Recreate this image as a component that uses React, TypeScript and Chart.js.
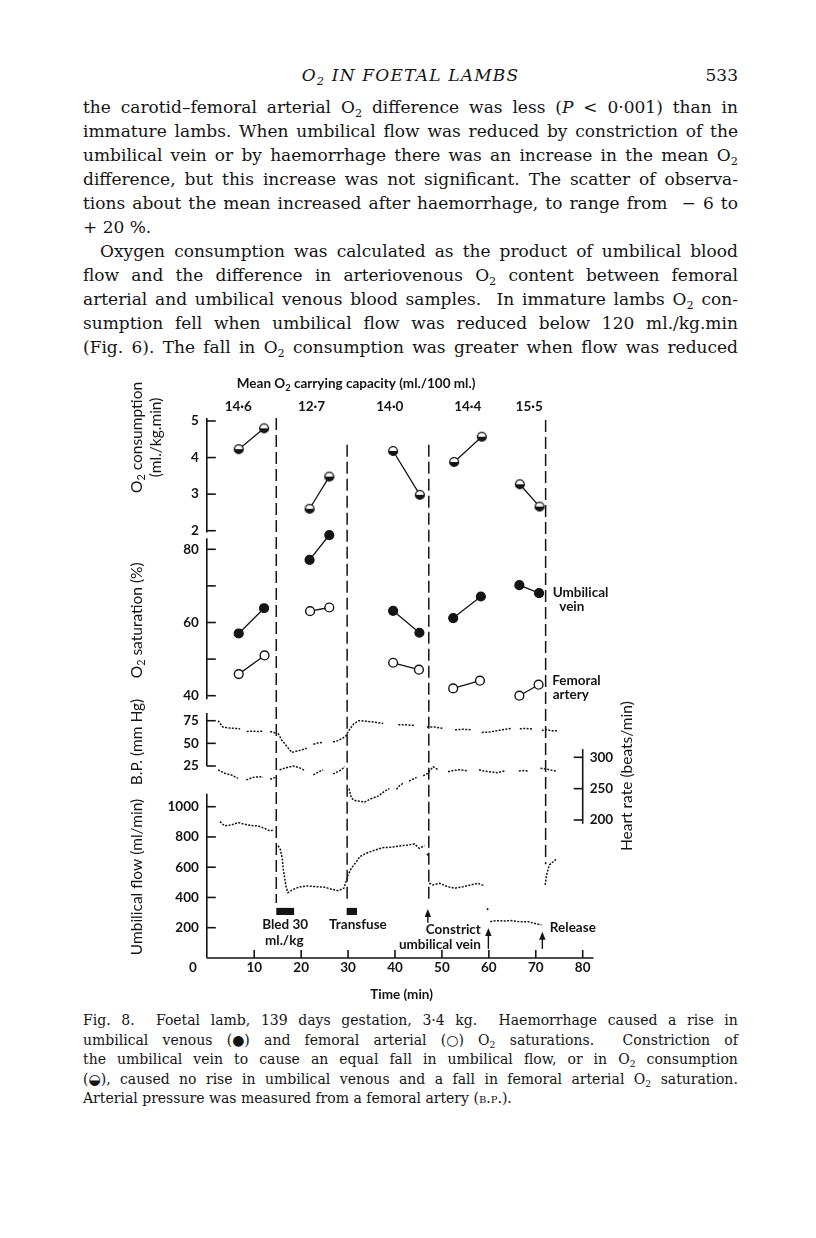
import React, { useEffect, useRef } from 'react';
import { Chart, registerables } from 'chart.js';
Chart.register(...registerables);

const INK = '#141414';

// ---------------- data ----------------
const capacityLabels = ['14·6', '12·7', '14·0', '14·4', '15·5'];
const capacityTimes = [6.6, 22.2, 38.9, 55.5, 68.6];

// O2 consumption (ml./kg.min), pairs before/after each intervention
const o2ConsTimes = [6.7, 12.1, 21.8, 26.0, 39.6, 45.3, 52.6, 58.5, 66.6, 70.8];
const o2ConsValues = [4.23, 4.8, 2.6, 3.48, 4.18, 2.98, 3.88, 4.57, 3.27, 2.66];

// O2 saturation (%)
const uvSatTimes = [6.7, 12.1, 21.8, 26.0, 39.6, 45.2, 52.4, 58.3, 66.5, 70.7];
const uvSatValues = [57.0, 63.9, 77.1, 83.9, 63.2, 57.2, 61.2, 67.1, 70.2, 68.0];
const faSatTimes = [6.7, 12.2, 21.9, 26.0, 39.6, 45.1, 52.4, 58.1, 66.5, 70.6];
const faSatValues = [45.9, 51.0, 63.1, 64.1, 49.0, 47.1, 42.0, 44.1, 40.0, 43.0];

// B.P. trace (mm Hg) [time, value]; null = gap in the record
const bpTrace: [number, number | null][] = [
  [2.3, 75], [3.3, 68], [4.6, 67], [5.8, 66.5], [7.0, 66], [7.7, null],
  [8.4, 63], [9.6, 63.5], [10.8, 63], [11.9, 63.5], [12.6, null],
  [13.4, 63], [14.5, 61.5], [14.8, null],
  [15.1, 61], [15.8, 54], [16.9, 47], [18.0, 40], [19.2, 41.5], [20.2, 43], [21.2, 44.5], [21.9, null],
  [22.6, 49], [23.6, 50.5], [24.7, 51], [25.7, null],
  [26.8, 51.5], [27.8, 53], [28.8, 55.5], [29.5, 58], [30.0, 63], [30.7, 68], [31.3, 72], [32.3, 75], [33.8, 74.5], [35.5, 73.5], [37.5, 72], [39.1, null],
  [40.7, 70.5], [42.3, 70.5], [44.3, 69.5], [45.5, null],
  [46.8, 68], [48.5, 68], [50.3, 66.5], [51.5, null],
  [52.8, 65], [54.5, 65.5], [56.3, 65], [57.4, null],
  [58.5, 62], [60.2, 62.5], [61.8, 64], [63.4, 65.5], [64.9, 66.5], [65.7, null],
  [66.6, 66], [68.0, 66.5], [69.5, 65.5], [70.4, null],
  [71.3, 64], [72.0, 65.5], [73.2, 64], [74.8, 64],
];

// Heart rate trace (beats/min)
const hrTrace: [number, number | null][] = [
  [2.3, 280], [3.7, 274.5], [5.1, 272], [6.5, 266.5], [7.3, null],
  [8.3, 264], [9.8, 268], [11.2, 269], [11.9, 268], [12.7, null],
  [13.4, 265], [14.5, 268], [14.9, null],
  [15.4, 280], [16.9, 283.5], [18.3, 286], [19.6, 283.5], [20.8, 279], [21.7, null],
  [22.6, 272], [23.8, 277], [24.7, 280], [25.7, null],
  [26.8, 273.5], [28.2, 278.5], [29.3, 285], [29.8, null],
  [30.2, 250], [30.7, 235], [31.4, 231], [32.5, 230], [33.5, 228.5], [34.9, 234], [36.4, 238], [37.8, 246], [38.8, 250], [39.6, null],
  [40.3, 249], [41.0, 255], [41.7, 258.5], [42.4, null],
  [43.0, 262], [43.8, 265], [44.6, 268], [45.4, null],
  [46.0, 270.5], [47.0, 274.5], [48.1, 285], [49.2, 280], [50.0, null],
  [51.3, 277], [52.5, 279], [53.8, 280], [55.5, 278.5], [56.5, null],
  [57.9, 280], [59.0, 278], [60.1, 277], [61.8, 275.5], [63.6, 278.5], [64.6, null],
  [66.4, 278], [67.5, 279], [68.5, 278], [69.8, null],
  [71.0, 282.5], [72.4, 281], [74.3, 278],
];

// Umbilical flow trace (ml/min)
const flowTrace: [number, number | null][] = [
  [2.7, 901], [3.7, 873], [5.1, 879], [6.6, 895], [8.0, 884], [9.4, 875], [10.8, 873], [12.2, 857], [13.3, 840], [14.1, 846], [14.6, null],
  [15.1, 742], [15.6, 714], [16.0, 650], [16.2, 582], [16.8, 470], [17.2, 432], [18.1, 450], [19.4, 467], [21.2, 476], [23.3, 471], [25.1, 467], [26.5, 454], [27.9, 445], [29.1, 461],
  [30.0, 549], [30.7, 593], [31.8, 637], [32.5, 670], [33.9, 692], [35.3, 709], [37.4, 729], [39.2, 732], [41.0, 740], [42.7, 747], [44.1, 754], [45.2, 725], [46.3, 742], [46.6, null],
  [46.9, 690], [47.0, 668], [47.1, null],
  [47.3, 494], [48.1, 483], [49.5, 494], [51.2, 471], [52.7, 461], [54.5, 471], [56.2, 483], [57.6, 494], [59.0, 478], [59.4, null],
  [59.7, 330], [59.8, 312], [60.0, null],
  [60.3, 240], [61.6, 247], [63.0, 244], [64.8, 247], [66.5, 240], [68.3, 240], [69.7, 229], [71.2, 218], [71.6, null],
  [72.0, 483], [72.3, 549], [72.9, 615], [74.3, 652],
];

// experimental events
const eventTimes = [14.7, 29.8, 47.2, 72.1];
const eventTopO2 = [5.08, 4.35, 4.35, 5.03];
const eventBottomFlow = [364, 383, 364, 620];
const bleedBar = [14.7, 18.5];
const transfuseBar = [29.7, 31.9];
const arrowTimes = [47.0, 59.9, 71.4];
const arrowTipFlow = [324, 198, 174];
const arrowBaseFlow = [233, 60, 60];

// ticks
const o2Ticks = [2, 3, 4, 5];
const satTicks = [40, 50, 60, 70, 80];
const satTickLabels = [40, 60, 80];
const bpTicks = [25, 50, 75];
const flowTicks = [200, 400, 600, 800, 1000];
const hrTicks = [200, 250, 300];
const timeTicks = [10, 20, 30, 40, 50, 60, 70, 80];

// ---------------- page text ----------------
const paragraphLines = [
  'the carotid–femoral arterial O_2 difference was less (*P* < 0·001) than in',
  'immature lambs. When umbilical flow was reduced by constriction of the',
  'umbilical vein or by haemorrhage there was an increase in the mean O_2',
  'difference, but this increase was not significant. The scatter of observa-',
  'tions about the mean increased after haemorrhage, to range from  − 6 to',
  '+ 20 %.',
  'Oxygen consumption was calculated as the product of umbilical blood',
  'flow and the difference in arteriovenous O_2 content between femoral',
  'arterial and umbilical venous blood samples.  In immature lambs O_2 con-',
  'sumption fell when umbilical flow was reduced below 120 ml./kg.min',
  '(Fig. 6). The fall in O_2 consumption was greater when flow was reduced',
];
const captionLines = [
  'Fig. 8.  Foetal lamb, 139 days gestation, 3·4 kg.  Haemorrhage caused a rise in',
  'umbilical venous (●) and femoral arterial (○) O_2 saturations.  Constriction of',
  'the umbilical vein to cause an equal fall in umbilical flow, or in O_2 consumption',
  '(◒), caused no rise in umbilical venous and a fall in femoral arterial O_2 saturation.',
  'Arterial pressure was measured from a femoral artery (^b.p.^).',
];

// ---------------- layout (page pixels) ----------------
const OFF = 8;
const CV = { x: 100, y: 360, w: 560, h: 650 };
const AREA = { left: 207.3, right: 582.7, top: 400, bottom: 960 };
const TEXT_LEFT = 83;
const TEXT_W = 655;

function rangeFor(v1: number, p1: number, v2: number, p2: number) {
  const k = (v2 - v1) / (p2 - p1);
  return { min: v1 + (AREA.bottom - p1) * k, max: v1 + (AREA.top - p1) * k };
}

// ---------------- canvas helpers ----------------
type Seg = { t: string; sub?: boolean };
function parseRich(s: string): Seg[] {
  return s.split(/(_\d)/).filter(Boolean).map((p) => (p.startsWith('_') ? { t: p.slice(1), sub: true } : { t: p }));
}
function drawText(
  ctx: CanvasRenderingContext2D,
  s: string,
  x: number,
  y: number,
  o: { size: number; weight?: string; align?: 'left' | 'center' | 'right'; rot?: number }
) {
  const font = (sz: number) => `${o.weight ?? 'normal'} ${sz}px Lato`;
  const segs = parseRich(s);
  let w = 0;
  const widths = segs.map((sg) => {
    ctx.font = font(sg.sub ? o.size * 0.7 : o.size);
    const m = ctx.measureText(sg.t).width;
    w += m;
    return m;
  });
  ctx.save();
  ctx.translate(x, y);
  if (o.rot) ctx.rotate(o.rot);
  let cx = o.align === 'center' ? -w / 2 : o.align === 'right' ? -w : 0;
  ctx.textBaseline = 'middle';
  ctx.textAlign = 'left';
  ctx.fillStyle = INK;
  segs.forEach((sg, i) => {
    ctx.font = font(sg.sub ? o.size * 0.7 : o.size);
    ctx.fillText(sg.t, cx, sg.sub ? o.size * 0.32 : 0);
    cx += widths[i];
  });
  ctx.restore();
}

function halfMarker(): HTMLCanvasElement {
  const c = document.createElement('canvas');
  c.width = 12;
  c.height = 12;
  const g = c.getContext('2d')!;
  const r = 4.4;
  g.beginPath();
  g.arc(6, 6, r, 0, Math.PI * 2);
  g.fillStyle = '#fff';
  g.fill();
  g.beginPath();
  g.arc(6, 6, r, 0, Math.PI);
  g.closePath();
  g.fillStyle = INK;
  g.fill();
  g.beginPath();
  g.arc(6, 6, r, 0, Math.PI * 2);
  g.lineWidth = 1.4;
  g.strokeStyle = INK;
  g.stroke();
  return c;
}

const figurePlugin = {
  id: 'figure',
  beforeDatasetsDraw(chart: any) {
    const ctx: CanvasRenderingContext2D = chart.ctx;
    const { x: xs, yO2, ySat, yBP, yHR, yFlow } = chart.scales;
    const X = (t: number) => xs.getPixelForValue(t);
    const ax = X(0) - 0.5;
    ctx.save();
    ctx.strokeStyle = INK;
    ctx.fillStyle = INK;
    ctx.lineWidth = 1.6;
    const seg = (x1: number, y1: number, x2: number, y2: number) => {
      ctx.beginPath();
      ctx.moveTo(x1, y1);
      ctx.lineTo(x2, y2);
      ctx.stroke();
    };

    // left axes
    const left = [
      { s: yO2, top: 5.08, bottom: 1.95, ticks: o2Ticks, labels: o2Ticks },
      { s: ySat, top: 83, bottom: 39, ticks: satTicks, labels: satTickLabels },
      { s: yBP, top: 83.5, bottom: 25, ticks: bpTicks, labels: bpTicks },
      { s: yFlow, top: 1085, bottom: 0, ticks: flowTicks, labels: flowTicks },
    ];
    left.forEach((a) => {
      seg(ax, a.s.getPixelForValue(a.top), ax, a.s.getPixelForValue(a.bottom));
      a.ticks.forEach((t: number) => seg(ax, a.s.getPixelForValue(t), ax + 9, a.s.getPixelForValue(t)));
      a.labels.forEach((t: number) =>
        drawText(ctx, String(t), ax - 8, a.s.getPixelForValue(t), { size: 13.5, weight: 'bold', align: 'right' })
      );
    });

    // time axis
    const axisY = yFlow.getPixelForValue(0);
    seg(ax, axisY, X(82.3), axisY);
    timeTicks.forEach((t) => {
      seg(X(t), axisY, X(t), axisY - 8);
      drawText(ctx, String(t), X(t), axisY + 10, { size: 13.5, weight: 'bold', align: 'center' });
    });
    drawText(ctx, '0', ax - 14, axisY + 10, { size: 13.5, weight: 'bold', align: 'center' });
    drawText(ctx, 'Time (min)', X(41.4), axisY + 37, { size: 13.5, weight: 'bold', align: 'center' });

    // heart-rate axis (right)
    const hx = X(80);
    seg(hx, yHR.getPixelForValue(313), hx, yHR.getPixelForValue(194));
    hrTicks.forEach((t) => {
      seg(hx - 9, yHR.getPixelForValue(t), hx, yHR.getPixelForValue(t));
      drawText(ctx, String(t), hx + 7, yHR.getPixelForValue(t), { size: 13.5, weight: 'bold', align: 'left' });
    });
    drawText(ctx, 'Heart rate (beats/min)', hx + 44, yHR.getPixelForValue(270), {
      size: 15.5,
      align: 'center',
      rot: -Math.PI / 2,
    });

    // left titles
    const rot = -Math.PI / 2;
    const tf = { size: 15.5, align: 'center' as const, rot };
    drawText(ctx, 'O_2 consumption', ax - 70, yO2.getPixelForValue(4.55), tf);
    drawText(ctx, '(ml./kg.min)', ax - 51, yO2.getPixelForValue(4.55), tf);
    drawText(ctx, 'O_2 saturation (%)', ax - 70, ySat.getPixelForValue(60.6), tf);
    drawText(ctx, 'B.P. (mm Hg)', ax - 70, yBP.getPixelForValue(51.5), tf);
    drawText(ctx, 'Umbilical flow (ml/min)', ax - 70, yFlow.getPixelForValue(535), tf);

    // top title and capacities
    const top = chart.chartArea.top;
    drawText(ctx, 'Mean O_2 carrying capacity (ml./100 ml.)', X(31.7), top - 16, { size: 13.5, weight: 'bold', align: 'center' });
    capacityTimes.forEach((t, i) =>
      drawText(ctx, capacityLabels[i], X(t), top + 7, { size: 13.5, weight: 'bold', align: 'center' })
    );

    // event lines
    ctx.lineWidth = 1.5;
    ctx.setLineDash([12, 5]);
    eventTimes.forEach((t, i) => seg(X(t), yO2.getPixelForValue(eventTopO2[i]), X(t), yFlow.getPixelForValue(eventBottomFlow[i])));
    ctx.setLineDash([]);

    // bars
    const barTop = yFlow.getPixelForValue(331);
    const barBot = yFlow.getPixelForValue(284);
    [bleedBar, transfuseBar].forEach((b) => ctx.fillRect(X(b[0]), barTop, X(b[1]) - X(b[0]), barBot - barTop));

    // arrows
    ctx.lineWidth = 1.4;
    arrowTimes.forEach((t, i) => {
      const x = X(t);
      const tip = yFlow.getPixelForValue(arrowTipFlow[i]);
      const base = yFlow.getPixelForValue(arrowBaseFlow[i]);
      seg(x, base, x, tip + 5);
      ctx.beginPath();
      ctx.moveTo(x, tip);
      ctx.lineTo(x - 3.2, tip + 8);
      ctx.lineTo(x + 3.2, tip + 8);
      ctx.closePath();
      ctx.fill();
    });

    // annotations
    const ann = { size: 13.5, weight: 'bold' };
    drawText(ctx, 'Bled 30', X(16.6), yFlow.getPixelForValue(218), { ...ann, align: 'center' });
    drawText(ctx, 'ml./kg', X(16.4), yFlow.getPixelForValue(112), { ...ann, align: 'center' });
    drawText(ctx, 'Transfuse', X(32.1), yFlow.getPixelForValue(218), { ...ann, align: 'center' });
    drawText(ctx, 'Constrict', X(58.3), yFlow.getPixelForValue(185), { ...ann, align: 'right' });
    drawText(ctx, 'umbilical vein', X(58.3), yFlow.getPixelForValue(86), { ...ann, align: 'right' });
    drawText(ctx, 'Release', X(73.0), yFlow.getPixelForValue(198), { ...ann, align: 'left' });
    drawText(ctx, 'Umbilical', X(73.6), ySat.getPixelForValue(68.1), { ...ann, align: 'left' });
    drawText(ctx, 'vein', X(75.0), ySat.getPixelForValue(64.3), { ...ann, align: 'left' });
    drawText(ctx, 'Femoral', X(73.5), ySat.getPixelForValue(44.1), { ...ann, align: 'left' });
    drawText(ctx, 'artery', X(73.6), ySat.getPixelForValue(40.3), { ...ann, align: 'left' });

    ctx.restore();
  },
};

function pairs(times: number[], values: number[]) {
  const out: { x: number; y: number | null }[] = [];
  for (let i = 0; i < times.length; i += 2) {
    out.push({ x: times[i], y: values[i] }, { x: times[i + 1], y: values[i + 1] });
    if (i + 2 < times.length) out.push({ x: (times[i + 1] + times[i + 2]) / 2, y: null });
  }
  return out;
}
const trace = (d: [number, number | null][]) => d.map(([x, y]) => ({ x, y }));

function FigureChart() {
  const ref = useRef<HTMLCanvasElement | null>(null);
  useEffect(() => {
    if (!ref.current) return;
    const marker = halfMarker();
    const pointSet = {
      borderColor: INK,
      borderWidth: 1.3,
      pointRadius: 4.4,
      pointBorderColor: INK,
      pointBorderWidth: 1.4,
      spanGaps: false,
      tension: 0,
      xAxisID: 'x',
    };
    const traceSet = {
      borderColor: INK,
      borderWidth: 1.5,
      borderDash: [2, 1.4],
      pointRadius: 0,
      spanGaps: false,
      tension: 0,
      xAxisID: 'x',
    };
    const chart = new Chart(ref.current, {
      type: 'line',
      data: {
        datasets: [
          { ...pointSet, label: 'O2 consumption', data: pairs(o2ConsTimes, o2ConsValues), yAxisID: 'yO2', pointStyle: marker as any, pointRadius: 5 },
          { ...pointSet, label: 'Umbilical vein', data: pairs(uvSatTimes, uvSatValues), yAxisID: 'ySat', pointBackgroundColor: INK },
          { ...pointSet, label: 'Femoral artery', data: pairs(faSatTimes, faSatValues), yAxisID: 'ySat', pointBackgroundColor: '#fff' },
          { ...traceSet, label: 'B.P.', data: trace(bpTrace), yAxisID: 'yBP' },
          { ...traceSet, label: 'Heart rate', data: trace(hrTrace), yAxisID: 'yHR' },
          { ...traceSet, label: 'Umbilical flow', data: trace(flowTrace), yAxisID: 'yFlow' },
        ] as any,
      },
      options: {
        animation: false,
        responsive: false,
        maintainAspectRatio: false,
        events: [],
        layout: {
          padding: {
            left: AREA.left - CV.x,
            right: CV.x + CV.w - AREA.right,
            top: AREA.top - CV.y,
            bottom: CV.y + CV.h - AREA.bottom,
          },
        },
        plugins: { legend: { display: false }, tooltip: { enabled: false } },
        scales: {
          x: { type: 'linear', min: 0, max: 80, display: false },
          yO2: { type: 'linear', display: false, ...rangeFor(5, 421, 2, 530.7) },
          ySat: { type: 'linear', display: false, ...rangeFor(80, 549.3, 40, 695.7) },
          yBP: { type: 'linear', display: false, ...rangeFor(75, 720.7, 25, 766) },
          yHR: { type: 'linear', display: false, ...rangeFor(300, 757.3, 200, 820) },
          yFlow: { type: 'linear', display: false, ...rangeFor(1000, 806.7, 200, 927.7) },
        },
      } as any,
      plugins: [figurePlugin],
    });
    return () => chart.destroy();
  }, []);
  return (
    <canvas
      ref={ref}
      width={CV.w}
      height={CV.h}
      style={{ position: 'absolute', left: CV.x - OFF, top: CV.y - OFF, width: CV.w, height: CV.h }}
    />
  );
}

// ---------------- html text ----------------
function renderTok(tok: string, key: number) {
  const parts = tok.split(/(\*[^*]+\*|_\d|\^[^^]+\^)/).filter(Boolean);
  return (
    <span key={key}>
      {parts.map((p, i) => {
        if (p.startsWith('*')) return <i key={i}>{p.slice(1, -1)}</i>;
        if (p.startsWith('_'))
          return (
            <span key={i} style={{ fontSize: '0.66em', position: 'relative', top: '0.32em' }}>
              {p.slice(1)}
            </span>
          );
        if (p.startsWith('^'))
          return (
            <span key={i} style={{ fontVariant: 'small-caps' }}>
              {p.slice(1, -1)}
            </span>
          );
        return <React.Fragment key={i}>{p}</React.Fragment>;
      })}
    </span>
  );
}

function TextLine(props: { text: string; cy: number; lh: number; size: number; justify: boolean; indent?: number }) {
  const { text, cy, lh, size, justify } = props;
  const indent = props.indent ?? 0;
  const words = text.split(' ');
  const style: React.CSSProperties = {
    position: 'absolute',
    left: TEXT_LEFT - OFF + indent,
    top: cy - lh / 2 - OFF,
    width: TEXT_W - indent,
    height: lh,
    lineHeight: `${lh}px`,
    fontSize: size,
    fontFamily: '"DejaVu Serif", serif',
    color: INK,
    whiteSpace: 'pre',
  };
  if (justify) {
    return (
      <div style={{ ...style, display: 'flex', justifyContent: 'space-between' }}>
        {words.map((w, i) => renderTok(w, i))}
      </div>
    );
  }
  return (
    <div style={style}>
      {words.map((w, i) => (
        <React.Fragment key={i}>
          {i > 0 ? ' ' : ''}
          {renderTok(w, i)}
        </React.Fragment>
      ))}
    </div>
  );
}

export default function App() {
  return (
    <div style={{ position: 'relative', width: 800, height: 1222, background: '#fff', overflow: 'hidden' }}>
      <div
        style={{
          position: 'absolute',
          left: TEXT_LEFT - OFF,
          width: TEXT_W,
          top: 75 - 12 - OFF,
          height: 24,
          lineHeight: '24px',
          fontFamily: '"DejaVu Serif", serif',
          fontSize: 17,
          color: INK,
        }}
      >
        <div style={{ position: 'absolute', left: 0, width: TEXT_W, textAlign: 'center', fontStyle: 'italic', letterSpacing: 1.2 }}>
          O<span style={{ fontSize: '0.66em', position: 'relative', top: '0.32em' }}>2</span> IN FOETAL LAMBS
        </div>
        <div style={{ position: 'absolute', right: 0 }}>533</div>
      </div>
      {paragraphLines.map((l, i) => (
        <TextLine key={'p' + i} text={l} cy={107 + 24 * i} lh={24} size={17} justify={i !== 5} indent={i === 6 ? 17 : 0} />
      ))}
      <FigureChart />
      {captionLines.map((l, i) => (
        <TextLine key={'c' + i} text={l} cy={1021 + 19.5 * i} lh={19.5} size={14} justify={i !== 4} />
      ))}
    </div>
  );
}
